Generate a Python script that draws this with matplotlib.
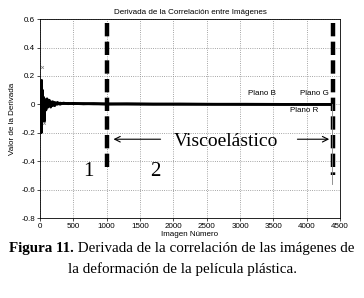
import numpy as np
import matplotlib.pyplot as plt

# image index and derivative values (three colour planes)
img_x = [0, 8, 15, 20, 25, 30, 38, 45, 55, 65, 75, 90, 105, 120, 140, 160, 190, 220,
         260, 300, 350, 420, 500, 650, 800, 1000, 1300, 1700, 2100, 2600, 3100, 3600, 4000, 4390]
plano_r = [0, -0.03, 0.06, -0.2, 0.17, -0.08, 0.1, -0.04, 0.05, -0.06, 0.03, -0.04, 0.04,
           -0.02, 0.03, -0.02, 0.02, -0.01, 0.015, 0.0, 0.01, 0.005, 0.008, 0.004, 0.006,
           0.002, 0.004, 0.002, 0.003, 0.001, 0.002, 0.001, 0.0, 0.0]
plano_g = [0, 0.02, -0.05, 0.12, -0.15, 0.06, -0.07, 0.04, -0.05, 0.04, -0.03, 0.03, -0.02,
           0.03, -0.01, 0.02, -0.01, 0.015, 0.0, 0.01, 0.005, 0.008, 0.004, 0.006, 0.003,
           0.004, 0.002, 0.003, 0.001, 0.002, 0.001, 0.0, 0.0, 0.0]
plano_b = [0, -0.01, 0.03, -0.1, 0.1, -0.05, 0.05, -0.06, 0.02, -0.12, 0.02, -0.02, 0.03,
           -0.01, 0.02, -0.015, 0.01, 0.0, 0.01, 0.005, 0.008, 0.004, 0.006, 0.003, 0.004,
           0.002, 0.003, 0.001, 0.002, 0.001, 0.0, 0.0, 0.0, 0.0]
outliers_x = [35, 60]
outliers_y = [0.26, -0.13]

stage_lines = [1000, 4400]
x_ticks = [0, 500, 1000, 1500, 2000, 2500, 3000, 3500, 4000, 4500]
y_ticks = [-0.8, -0.6, -0.4, -0.2, 0, 0.2, 0.4, 0.6]

fig = plt.figure(figsize=(3.64, 2.98), dpi=100)
ax = fig.add_axes([0.11, 0.268, 0.824, 0.668])

for s in (plano_r, plano_g, plano_b):
    ax.plot(img_x, s, color='black', lw=1.8)
ax.plot(outliers_x, outliers_y, 'x', color='gray', ms=2, mew=0.5)

ax.plot([stage_lines[0]] * 2, [0.57, -0.47], color='black', lw=3.2, ls=(0, (3, 1.2)))
ax.plot([stage_lines[1]] * 2, [0.57, -0.5], color='black', lw=3.2, ls=(0, (3, 1.2)))
ax.plot([4375, 4375], [0.0, -0.56], color='gray', lw=0.6)

ax.text(3120, 0.08, 'Plano B', fontsize=5.8, family='Liberation Sans', va='center')
ax.text(3900, 0.08, 'Plano G', fontsize=5.8, family='Liberation Sans', va='center')
ax.text(3750, -0.04, 'Plano R', fontsize=5.8, family='Liberation Sans', va='center')

serif = 'Liberation Serif'
ax.text(2790, -0.26, 'Viscoelástico', fontsize=14, family=serif, ha='center', va='center')
ax.annotate('', xy=(1060, -0.245), xytext=(1850, -0.245),
            arrowprops=dict(arrowstyle='->', lw=0.8, color='black'))
ax.annotate('', xy=(4380, -0.245), xytext=(3820, -0.245),
            arrowprops=dict(arrowstyle='->', lw=0.8, color='black'))
ax.text(720, -0.47, '1', fontsize=15, family=serif, ha='center', va='center')
ax.text(1725, -0.47, '2', fontsize=15, family=serif, ha='center', va='center')

ax.set_xlim(0, 4500)
ax.set_ylim(-0.8, 0.6)
ax.set_xticks(x_ticks)
ax.set_yticks(y_ticks)
ax.set_yticklabels(['-0.8', '-0.6', '-0.4', '-0.2', '0', '0.2', '0.4', '0.6'])
ax.tick_params(labelsize=5.8, length=2, width=0.5, pad=1.5)
for lab in ax.get_xticklabels() + ax.get_yticklabels():
    lab.set_family('Liberation Sans')
ax.grid(True, ls=':', color='#888888', lw=0.6)
for sp in ax.spines.values():
    sp.set_linewidth(0.6)
ax.set_title('Derivada de la Correlación entre Imágenes', fontsize=5.8,
             family='Liberation Sans', pad=4)
ax.set_ylabel('Valor de la Derivada', fontsize=5.8, family='Liberation Sans', labelpad=4)
ax.set_xlabel('Imagen Número', fontsize=5.8, family='Liberation Sans', labelpad=1)

# caption: bold prefix + regular text, centred as one line
fig.canvas.draw()
r = fig.canvas.get_renderer()
bold = fig.text(0, 0.165, 'Figura 11.', fontsize=10.8, family=serif, weight='bold', va='center')
rest = fig.text(0, 0.165, ' Derivada de la correlación de las imágenes de', fontsize=10.8,
                family=serif, va='center')
wb = bold.get_window_extent(r).width / fig.bbox.width
wr = rest.get_window_extent(r).width / fig.bbox.width
x0 = 0.5 - (wb + wr) / 2
bold.set_x(x0)
rest.set_x(x0 + wb)
fig.text(0.5, 0.098, 'la deformación de la película plástica.', fontsize=10.8,
         family=serif, ha='center', va='center')

fig.savefig('out.png', dpi=100, facecolor='white')
